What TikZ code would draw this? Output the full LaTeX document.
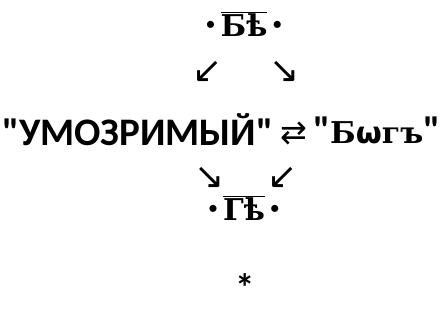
\documentclass[tikz,border=0pt]{standalone}
\usepackage{fontspec}
\setmainfont{Carlito}[Ligatures=TeXOff]
\newfontfamily\slavfont{DejaVu Serif}[Ligatures=TeXOff]
\newfontfamily\symfont{DejaVu Sans}[Ligatures=TeXOff]
\usetikzlibrary{positioning}
\newcommand{\titlo}[1]{$\overline{\hbox{#1}}$}
\newcommand{\dotmark}{\raisebox{6pt}{\normalfont\fontsize{20}{24}\selectfont •}}
\tikzset{
  word/.style={inner sep=0pt, font=\fontsize{39}{44}\selectfont\bfseries},
  slav/.style={inner sep=0pt, font=\fontsize{30}{34}\selectfont\slavfont\bfseries},
  arr/.style={inner sep=0pt, font=\fontsize{36}{40}\selectfont\symfont}
}
\begin{document}
\begin{tikzpicture}[x=1pt, y=-1pt]
    \useasboundingbox (0,0) rectangle (446,322);

    % upper sign
    \node (upper) [slav] at (244,24) {\dotmark\,\titlo{Бѣ}\,\dotmark};
    \node (upl) [arr] at (208,72) {↙};
    \node (upr) [arr] at (285,72) {↘};

    % middle line
    \node (mind) [word, anchor=west] at (2,130) {"УМОЗРИМЫЙ"};
    \node (swap) [arr, font=\fontsize{32}{36}\selectfont\symfont, right=7pt of mind, yshift=-3pt] {⇄};
    \node (god) [word, right=5pt of swap, yshift=3pt] {"{\slavfont\fontsize{30}{34}\selectfont Б{\symfont ѡ}гъ}"};

    % lower sign
    \node (lowl) [arr] at (210,178) {↘};
    \node (lowr) [arr] at (283,178) {↙};
    \node (lower) [slav] at (244,208) {\dotmark\,\titlo{Гѣ}\,\dotmark};

    \node (star) [word] at (245,288) {*};
\end{tikzpicture}
\end{document}
